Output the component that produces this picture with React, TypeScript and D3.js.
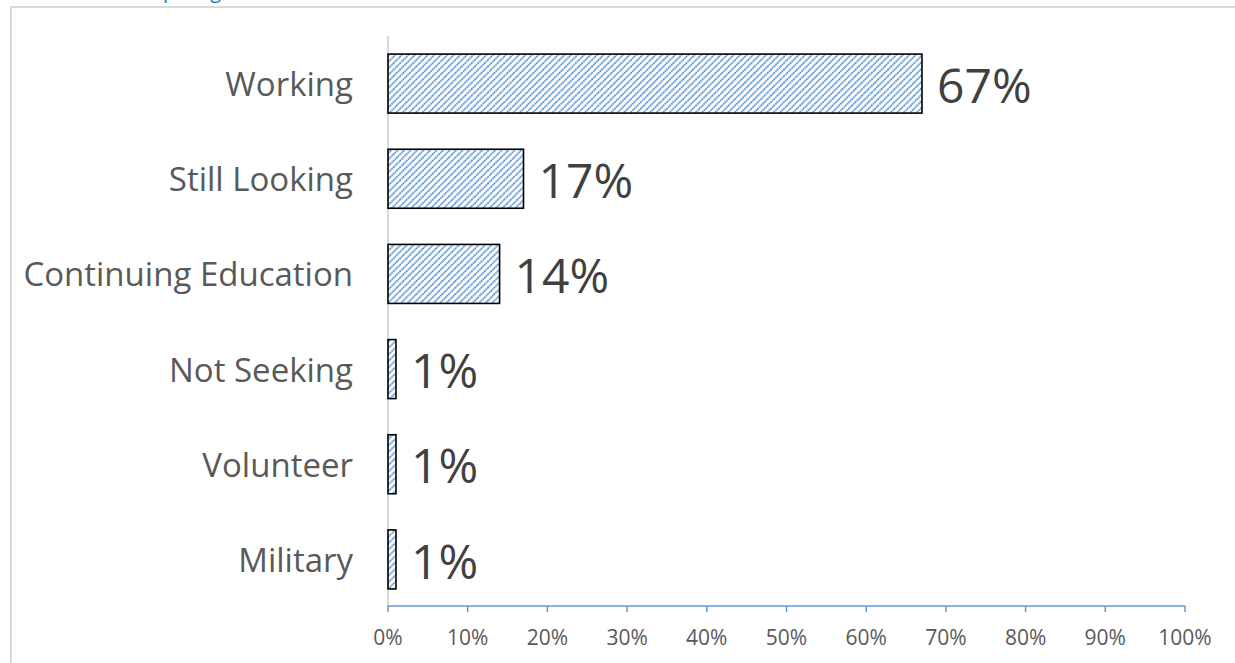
import React, { useEffect, useRef } from 'react'
import * as d3 from 'd3'

const categories = ['Working', 'Still Looking', 'Continuing Education', 'Not Seeking', 'Volunteer', 'Military']
const shares = [67, 17, 14, 1, 1, 1]
const tickValues = [0, 10, 20, 30, 40, 50, 60, 70, 80, 90, 100]

const W = 1235
const H = 663

export default function App() {
  const ref = useRef<SVGSVGElement | null>(null)

  useEffect(() => {
    if (!ref.current) return
    const svg = d3.select(ref.current)
    svg.selectAll('*').remove()

    const font = '"Open Sans", sans-serif'

    // hatch pattern, blue dotted diagonals
    const defs = svg.append('defs')
    const pat = defs
      .append('pattern')
      .attr('id', 'hatch')
      .attr('patternUnits', 'userSpaceOnUse')
      .attr('width', 4.6)
      .attr('height', 4.6)
      .attr('patternTransform', 'rotate(45)')
    pat.append('rect').attr('width', 4.6).attr('height', 4.6).attr('fill', '#fff')
    pat
      .append('line')
      .attr('x1', 1)
      .attr('y1', 0)
      .attr('x2', 1)
      .attr('y2', 4.6)
      .attr('stroke', '#4a8ad0')
      .attr('stroke-width', 1.8)
      .attr('stroke-dasharray', '1.6,0.7')

    // cut-off caption above the frame
    svg
      .append('text')
      .attr('x', 70)
      .attr('y', -2)
      .attr('fill', '#2e74b5')
      .style('font-family', font)
      .style('font-size', '20px')
      .text('Graduate post-graduation outcomes')

    // frame
    svg
      .append('rect')
      .attr('x', 11)
      .attr('y', 7)
      .attr('width', W)
      .attr('height', H)
      .attr('fill', 'none')
      .attr('stroke', '#d9d9d9')
      .attr('stroke-width', 2)

    const x = d3.scaleLinear().domain([0, 100]).range([388, 1185])
    const y = d3.scaleBand<string>().domain(categories).range([36, 607]).paddingInner(0.38).paddingOuter(0.19)

    // category axis line
    svg
      .append('line')
      .attr('x1', x(0))
      .attr('x2', x(0))
      .attr('y1', 36)
      .attr('y2', 607)
      .attr('stroke', '#d9d9d9')
      .attr('stroke-width', 2)

    // x axis
    const axisY = 606
    svg
      .append('line')
      .attr('x1', x(0))
      .attr('x2', x(100))
      .attr('y1', axisY)
      .attr('y2', axisY)
      .attr('stroke', '#5b9bd5')
      .attr('stroke-width', 1.5)
    const ticks = svg.append('g')
    ticks
      .selectAll('line')
      .data(tickValues)
      .join('line')
      .attr('x1', (d) => x(d))
      .attr('x2', (d) => x(d))
      .attr('y1', axisY)
      .attr('y2', axisY + 6)
      .attr('stroke', '#5b9bd5')
      .attr('stroke-width', 1.5)
    ticks
      .selectAll('text')
      .data(tickValues)
      .join('text')
      .attr('x', (d) => x(d))
      .attr('y', 645)
      .attr('text-anchor', 'middle')
      .attr('fill', '#595959')
      .style('font-family', font)
      .style('font-size', '21px')
      .text((d) => `${d}%`)

    const rows = categories.map((c, i) => ({ c, v: shares[i] }))

    svg
      .append('g')
      .selectAll('rect')
      .data(rows)
      .join('rect')
      .attr('x', x(0))
      .attr('y', (d) => y(d.c)!)
      .attr('width', (d) => x(d.v) - x(0))
      .attr('height', y.bandwidth())
      .attr('fill', 'url(#hatch)')
      .attr('stroke', '#000')
      .attr('stroke-width', 1.6)

    svg
      .append('g')
      .selectAll('text')
      .data(rows)
      .join('text')
      .attr('x', 353)
      .attr('y', (d) => y(d.c)! + y.bandwidth() / 2)
      .attr('dy', '0.38em')
      .attr('text-anchor', 'end')
      .attr('fill', '#595959')
      .style('font-family', font)
      .style('font-size', '33px')
      .text((d) => d.c)

    svg
      .append('g')
      .selectAll('text')
      .data(rows)
      .join('text')
      .attr('x', (d) => x(d.v) + 15)
      .attr('y', (d) => y(d.c)! + y.bandwidth() / 2)
      .attr('dy', '0.4em')
      .attr('fill', '#404040')
      .style('font-family', font)
      .style('font-size', '48px')
      .text((d) => `${d.v}%`)
  }, [])

  return (
    <svg
      ref={ref}
      width={W}
      height={H}
      style={{ position: 'fixed', left: 0, top: 0, background: '#fff', display: 'block' }}
    />
  )
}
